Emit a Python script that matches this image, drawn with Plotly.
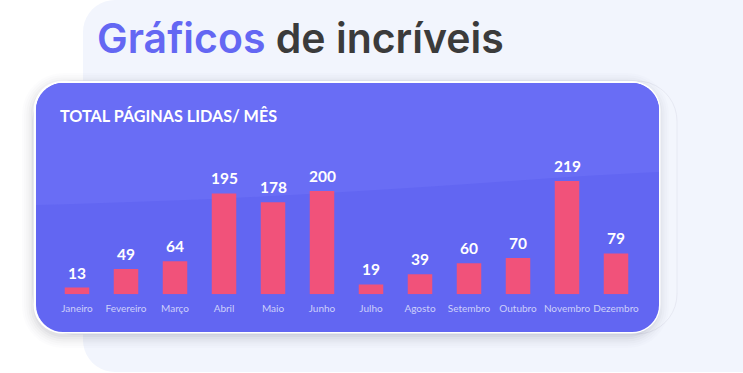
import math
import plotly.graph_objects as go

# ---- data ----
months = ["Janeiro", "Fevereiro", "Março", "Abril", "Maio", "Junho",
          "Julho", "Agosto", "Setembro", "Outubro", "Novembro", "Dezembro"]
pages = [13, 49, 64, 195, 178, 200, 19, 39, 60, 70, 219, 79]
chart_title = "TOTAL PÁGINAS LIDAS/ MÊS"
headline_accent = "Gráficos"
headline_rest = "de incríveis"

W, H = 743, 373

def px(x):
    return x / W

def py(y):
    return 1 - y / H

def corner(cx, cy, r, a0, a1, n=10):
    pts = []
    for k in range(n + 1):
        a = math.radians(a0 + (a1 - a0) * k / n)
        pts.append((cx + r * math.cos(a), cy + r * math.sin(a)))
    return pts

def rounded_rect(x0, y0, x1, y1, r):
    pts = []
    pts += corner(x0 + r, y0 + r, r, 180, 270)
    pts += corner(x1 - r, y0 + r, r, 270, 360)
    pts += corner(x1 - r, y1 - r, r, 0, 90)
    pts += corner(x0 + r, y1 - r, r, 90, 180)
    return "M " + " L ".join(f"{px(a):.5f},{py(b):.5f}" for a, b in pts) + " Z"

def top_wave(x0, y0, x1, r, yl, yr):
    pts = [(x0, yl)]
    pts += corner(x0 + r, y0 + r, r, 180, 270)
    pts += corner(x1 - r, y0 + r, r, 270, 360)
    pts.append((x1, yr))
    s = "M " + " L ".join(f"{px(a):.5f},{py(b):.5f}" for a, b in pts)
    s += (f" C {px(520):.5f},{py(178):.5f} {px(330):.5f},{py(198):.5f} "
          f"{px(x0):.5f},{py(yl):.5f} Z")
    return s

shapes = []
# light background panel
shapes.append(dict(type="path", path=rounded_rect(83, 0, 775, 372, 32),
                   fillcolor="#f2f5fd", line=dict(width=0), layer="below",
                   xref="paper", yref="paper"))
# faint outlined card behind
shapes.append(dict(type="path", path=rounded_rect(33, 81, 677, 334, 40),
                   fillcolor="#f3f6fd", line=dict(color="#e7e9f3", width=1),
                   layer="below", xref="paper", yref="paper"))
# soft shadow
for i, op in enumerate([0.035, 0.03, 0.025, 0.02, 0.015, 0.01]):
    g = 2 + i * 2.2
    shapes.append(dict(type="path",
                       path=rounded_rect(36 - g - 1, 83 - g + 3, 659 + g - 3, 332 + g + 3, 28 + g),
                       fillcolor=f"rgba(40,40,60,{op})", line=dict(width=0),
                       layer="below", xref="paper", yref="paper"))
# white border
shapes.append(dict(type="path", path=rounded_rect(33.5, 81, 660.5, 333.5, 29),
                   fillcolor="#ffffff", line=dict(width=0), layer="below",
                   xref="paper", yref="paper"))
# purple card
shapes.append(dict(type="path", path=rounded_rect(36, 83, 659, 332, 27),
                   fillcolor="#6266f2", line=dict(width=0), layer="below",
                   xref="paper", yref="paper"))
# lighter top wave region
shapes.append(dict(type="path", path=top_wave(36, 83, 659, 27, 205, 172),
                   fillcolor="#696df5", line=dict(width=0), layer="below",
                   xref="paper", yref="paper"))

fig = go.Figure()
fig.add_trace(go.Bar(x=months, y=pages, marker=dict(color="#f1527a", line=dict(width=0)),
                     hoverinfo="x+y", width=0.5))

annotations = []
for m, v in zip(months, pages):
    annotations.append(dict(x=m, y=v, xref="x", yref="y", text=f"<b>{v}</b>",
                            showarrow=False, yanchor="middle", yshift=15,
                            font=dict(family="Lato, sans-serif", size=15.5, color="#ffffff")))

annotations.append(dict(x=px(58), y=py(115), xref="paper", yref="paper",
                        xanchor="left", yanchor="middle", showarrow=False,
                        text=f"<b>{chart_title}</b>",
                        font=dict(family="Lato, sans-serif", size=16.2, color="#ffffff")))
annotations.append(dict(x=px(95), y=py(38), xref="paper", yref="paper",
                        xanchor="left", yanchor="middle", showarrow=False,
                        text=f"<span style='color:#6467f3'>{headline_accent}</span> {headline_rest}",
                        font=dict(family="Inter, sans-serif", size=41, color="#3b3b3b", weight=600)))

x_lo, x_hi = 52.5, 640.5
y_bot, y_top = 294.3, 294.3 - 250 * 0.517

fig.update_layout(
    width=W, height=H,
    margin=dict(l=0, r=0, t=0, b=0),
    paper_bgcolor="#ffffff", plot_bgcolor="rgba(0,0,0,0)",
    showlegend=False,
    shapes=shapes, annotations=annotations,
    bargap=0.5,
    xaxis=dict(domain=[px(x_lo), px(x_hi)], range=[-0.5, 11.5], showgrid=False,
               zeroline=False, showline=False, ticks="", automargin=False,
               ticklabelstandoff=7,
               tickfont=dict(family="Lato, sans-serif", size=10, color="#cdd0fa")),
    yaxis=dict(domain=[py(y_bot), py(y_top)], range=[0, 250], visible=False,
               showgrid=False, zeroline=False, automargin=False),
)

fig.write_html("out.html", config={"displayModeBar": False},
               post_script="document.body.style.margin='0';")
